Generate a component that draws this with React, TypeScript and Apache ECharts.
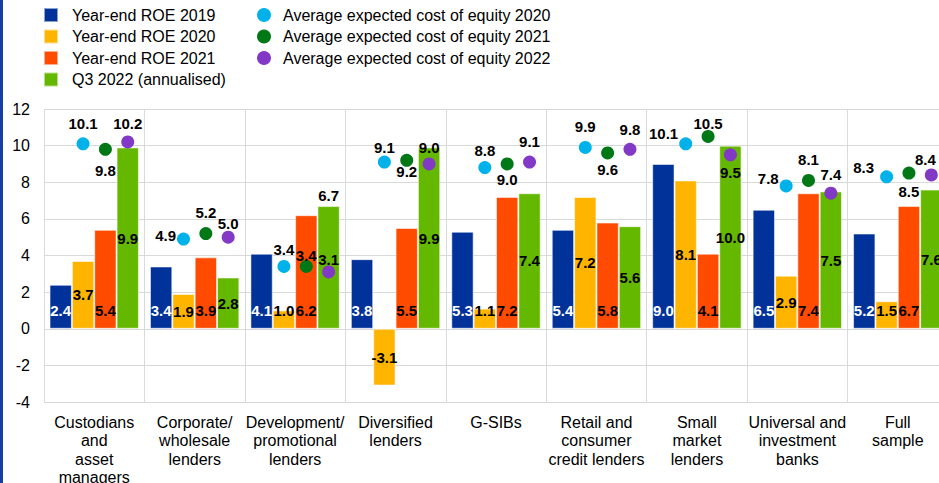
import React, { useEffect, useRef } from 'react';
import * as echarts from 'echarts';

const categories = [
  'Custodians\nand\nasset\nmanagers',
  'Corporate/\nwholesale\nlenders',
  'Development/\npromotional\nlenders',
  'Diversified\nlenders',
  'G-SIBs',
  'Retail and\nconsumer\ncredit lenders',
  'Small\nmarket\nlenders',
  'Universal and\ninvestment\nbanks',
  'Full\nsample',
];

const roe2019 = [2.4, 3.4, 4.1, 3.8, 5.3, 5.4, 9.0, 6.5, 5.2];
const roe2020 = [3.7, 1.9, 1.0, -3.1, 1.1, 7.2, 8.1, 2.9, 1.5];
const roe2021 = [5.4, 3.9, 6.2, 5.5, 7.2, 5.8, 4.1, 7.4, 6.7];
const q32022 = [9.9, 2.8, 6.7, 9.9, 7.4, 5.6, 10.0, 7.5, 7.6];

const coe2020 = [10.1, 4.9, 3.4, 9.1, 8.8, 9.9, 10.1, 7.8, 8.3];
const coe2021 = [9.8, 5.2, 3.4, 9.2, 9.0, 9.6, 10.5, 8.1, 8.5];
const coe2022 = [10.2, 5.0, 3.1, 9.0, 9.1, 9.8, 9.5, 7.4, 8.4];

const yTicks = { min: -4, max: 12, interval: 2 };

// label placement (layout only)
const roe2020LabelPos = ['inside', 'inside', 'insideBottom', 'inside', 'insideBottom', 'inside', 'inside', 'inside', 'insideBottom'];
const q3LabelPos = ['inside', 'inside', 'top', 'inside', 'inside', 'inside', 'inside', 'inside', 'inside'];

const coe2020LabelPos = ['top', 'left', 'top', 'top', 'top', 'top', 'left', 'left', 'left'];
const coe2020LabelDist = [6, 1, 3, 1, 3, 7, 1, 1, 6];
const coe2020LabelOff = [[0, 0], [0, -4], [0, 0], [0, 0], [0, 0], [0, 0], [0, -10], [0, -7], [0, -9]];

const coe2021LabelPos = ['bottom', 'top', 'top', 'bottom', 'bottom', 'bottom', 'top', 'top', 'bottom'];
const coe2021LabelDist = [7, 7, -3, -3, 2, 3, -1, 7, 4];

const coe2022LabelPos = ['top', 'top', 'top', 'top', 'top', 'top', 'bottom', 'top', 'top'];
const coe2022LabelDist = [4, 0, -2, 2, 7, 6, 4, 5, 1];
const coe2022LabelOff = [[0, 0], [0, 0], [0, 0], [0, 0], [0, 0], [0, 0], [0, 0], [0, 0], [-6, 0]];

const COLORS = {
  roe2019: '#003299',
  roe2020: '#FFB400',
  roe2021: '#FF4B00',
  q3: '#65B800',
  coe2020: '#00B1EA',
  coe2021: '#007816',
  coe2022: '#8139C6',
};

const FONT = '"Liberation Sans", Arial, sans-serif';
const CAT_GAP = 0.11; // barCategoryGap fraction
const N_BARS = 4;

export default function App() {
  const ref = useRef<HTMLDivElement>(null);

  useEffect(() => {
    if (!ref.current) return;
    const chart = echarts.init(ref.current, undefined, { renderer: 'svg' });

    const barW = (1 - CAT_GAP) / N_BARS;
    const barCenter = (i: number, j: number) => i + 0.5 + (j - (N_BARS - 1) / 2) * barW;

    const fmt1 = (p: any) => {
      const v = Array.isArray(p.value) ? p.value[1] : p.value;
      return Number(v).toFixed(1);
    };

    const labelBase = {
      show: true,
      fontFamily: FONT,
      fontWeight: 'bold' as const,
      fontSize: 15,
      color: '#000',
      formatter: fmt1,
    };

    const barStyle = (color: string) => ({
      color,
      borderColor: 'rgba(255,255,255,0.55)',
      borderWidth: 1,
    });

    const scatterData = (vals: number[], j: number, pos: string[], dist: number[], off?: number[][]) =>
      vals.map((v, i) => ({
        value: [barCenter(i, j), v],
        label: {
          ...labelBase,
          position: pos[i],
          distance: dist[i],
          offset: off ? off[i] : [0, 0],
        },
      }));

    const option: any = {
      animation: false,
      backgroundColor: '#ffffff',
      textStyle: { fontFamily: FONT },
      graphic: [
        {
          type: 'rect',
          left: 0,
          top: 0,
          shape: { x: 0, y: 0, width: 3, height: 483 },
          style: { fill: '#153fa3' },
          silent: true,
        },
      ],
      legend: [
        {
          orient: 'vertical',
          left: 43,
          top: 7,
          padding: 0,
          itemWidth: 14,
          itemHeight: 14,
          itemGap: 5.5,
          icon: 'rect',
          selectedMode: false,
          textStyle: { fontSize: 16, color: '#000', lineHeight: 14, padding: [0, 0, 0, 9], fontFamily: FONT },
          data: ['Year-end ROE 2019', 'Year-end ROE 2020', 'Year-end ROE 2021', 'Q3 2022 (annualised)'],
        },
        {
          orient: 'vertical',
          left: 257,
          top: 7,
          padding: 0,
          itemWidth: 14,
          itemHeight: 14,
          itemGap: 5.5,
          icon: 'circle',
          selectedMode: false,
          textStyle: { fontSize: 16, color: '#000', lineHeight: 14, padding: [0, 0, 0, 7], fontFamily: FONT },
          data: [
            'Average expected cost of equity 2020',
            'Average expected cost of equity 2021',
            'Average expected cost of equity 2022',
          ],
        },
      ],
      grid: { left: 44, right: -9, top: 109, bottom: 81, containLabel: false, outerBoundsMode: 'none' },
      xAxis: [
        {
          type: 'category',
          data: categories,
          axisLine: { show: false },
          axisTick: { show: false },
          splitLine: { show: true, lineStyle: { color: '#d9d9d9', width: 1 } },
          axisLabel: {
            interval: 0,
            fontSize: 16,
            lineHeight: 18.5,
            color: '#000',
            margin: 11,
            fontFamily: FONT,
          },
        },
        {
          type: 'value',
          min: 0,
          max: categories.length,
          show: false,
        },
      ],
      yAxis: {
        type: 'value',
        min: yTicks.min,
        max: yTicks.max,
        interval: yTicks.interval,
        axisLine: { show: false },
        axisTick: { show: false },
        splitLine: { show: true, lineStyle: { color: '#d9d9d9', width: 1 } },
        axisLabel: { fontSize: 16, color: '#000', margin: 14, fontFamily: FONT },
      },
      series: [
        {
          name: 'Year-end ROE 2019',
          type: 'bar',
          barGap: '0%',
          barCategoryGap: CAT_GAP * 100 + '%',
          itemStyle: barStyle(COLORS.roe2019),
          label: { ...labelBase, color: '#fff', position: 'insideBottom', distance: 11 },
          data: roe2019,
        },
        {
          name: 'Year-end ROE 2020',
          type: 'bar',
          itemStyle: barStyle(COLORS.roe2020),
          data: roe2020.map((v, i) => ({
            value: v,
            label: { ...labelBase, position: roe2020LabelPos[i], distance: 11 },
          })),
        },
        {
          name: 'Year-end ROE 2021',
          type: 'bar',
          itemStyle: barStyle(COLORS.roe2021),
          label: { ...labelBase, position: 'insideBottom', distance: 11 },
          data: roe2021,
        },
        {
          name: 'Q3 2022 (annualised)',
          type: 'bar',
          itemStyle: barStyle(COLORS.q3),
          data: q32022.map((v, i) => ({
            value: v,
            label: { ...labelBase, position: q3LabelPos[i], distance: 3 },
          })),
        },
        {
          name: 'Average expected cost of equity 2020',
          type: 'scatter',
          xAxisIndex: 1,
          symbolSize: 13,
          itemStyle: { color: COLORS.coe2020, opacity: 1 },
          data: scatterData(coe2020, 1, coe2020LabelPos, coe2020LabelDist, coe2020LabelOff),
          z: 5,
        },
        {
          name: 'Average expected cost of equity 2021',
          type: 'scatter',
          xAxisIndex: 1,
          symbolSize: 13,
          itemStyle: { color: COLORS.coe2021, opacity: 1 },
          data: scatterData(coe2021, 2, coe2021LabelPos, coe2021LabelDist),
          z: 5,
        },
        {
          name: 'Average expected cost of equity 2022',
          type: 'scatter',
          xAxisIndex: 1,
          symbolSize: 13,
          itemStyle: { color: COLORS.coe2022, opacity: 1 },
          data: scatterData(coe2022, 3, coe2022LabelPos, coe2022LabelDist, coe2022LabelOff),
          z: 5,
        },
      ],
    };

    chart.setOption(option);
    return () => chart.dispose();
  }, []);

  return (
    <div
      ref={ref}
      style={{ position: 'absolute', left: 0, top: 0, width: 939, height: 483, background: '#fff' }}
    />
  );
}
